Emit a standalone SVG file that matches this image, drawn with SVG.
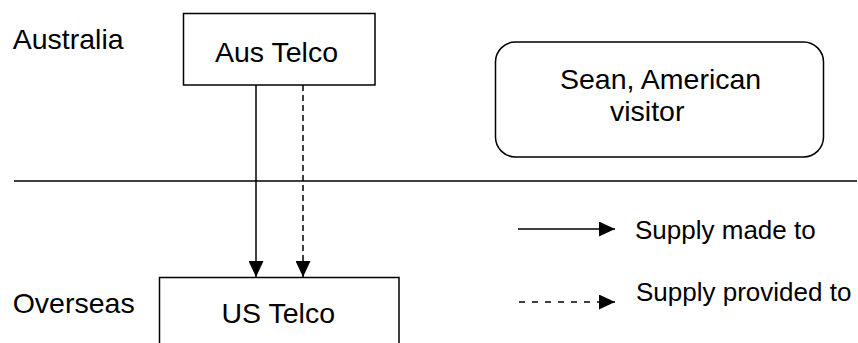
<svg xmlns="http://www.w3.org/2000/svg" width="858" height="343" viewBox="0 0 858 343">
<style>
  text { font-family: "Liberation Sans", Arial, sans-serif; fill: #000; }
  .lbl { font-size: 28.5px; }
  .leg { font-size: 26px; }
  .box { fill: #fff; stroke: #000; stroke-width: 1.5; }
  .ln { stroke: #000; stroke-width: 1.5; fill: none; }
  .dash { stroke-dasharray: 6 4; }
  .dash2 { stroke-dasharray: 6 7; }
</style>
<defs>
  <marker id="ah" viewBox="0 0 16 15" refX="16" refY="7.5" markerWidth="16" markerHeight="15" markerUnits="userSpaceOnUse" orient="auto">
    <path d="M0,0 L16,7.5 L0,15 Z" fill="#000"/>
  </marker>
</defs>
<rect width="858" height="343" fill="#fff"/>
<g id="region-labels">
  <text class="lbl" x="12.7" y="49.3">Australia</text>
  <text class="lbl" x="12.7" y="313.3">Overseas</text>
</g>
<g id="divider">
  <line class="ln" x1="14" y1="181" x2="857" y2="181"/>
</g>
<g id="aus-telco">
  <rect class="box" x="183.5" y="13.5" width="191.5" height="71.5"/>
  <text class="lbl" x="215" y="62">Aus Telco</text>
</g>
<g id="us-telco">
  <rect class="box" x="159.5" y="277.5" width="239.5" height="80"/>
  <text class="lbl" x="221.5" y="322.7">US Telco</text>
</g>
<g id="sean">
  <rect class="box" x="495.5" y="42" width="328" height="115" rx="20" ry="20"/>
  <text class="lbl" x="560" y="89.3">Sean, American</text>
  <text class="lbl" x="610" y="120.5">visitor</text>
</g>
<g id="connectors">
  <line class="ln" x1="256" y1="85" x2="256" y2="277" marker-end="url(#ah)"/>
  <line class="ln dash" x1="303" y1="85" x2="303" y2="277" marker-end="url(#ah)"/>
</g>
<g id="legend">
  <line class="ln" x1="518" y1="229" x2="615" y2="229" marker-end="url(#ah)"/>
  <text class="leg" x="635" y="238.5">Supply made to</text>
  <line class="ln dash2" x1="519" y1="302" x2="615" y2="302" marker-end="url(#ah)"/>
  <text class="leg" x="636" y="301">Supply provided to</text>
</g>
</svg>
